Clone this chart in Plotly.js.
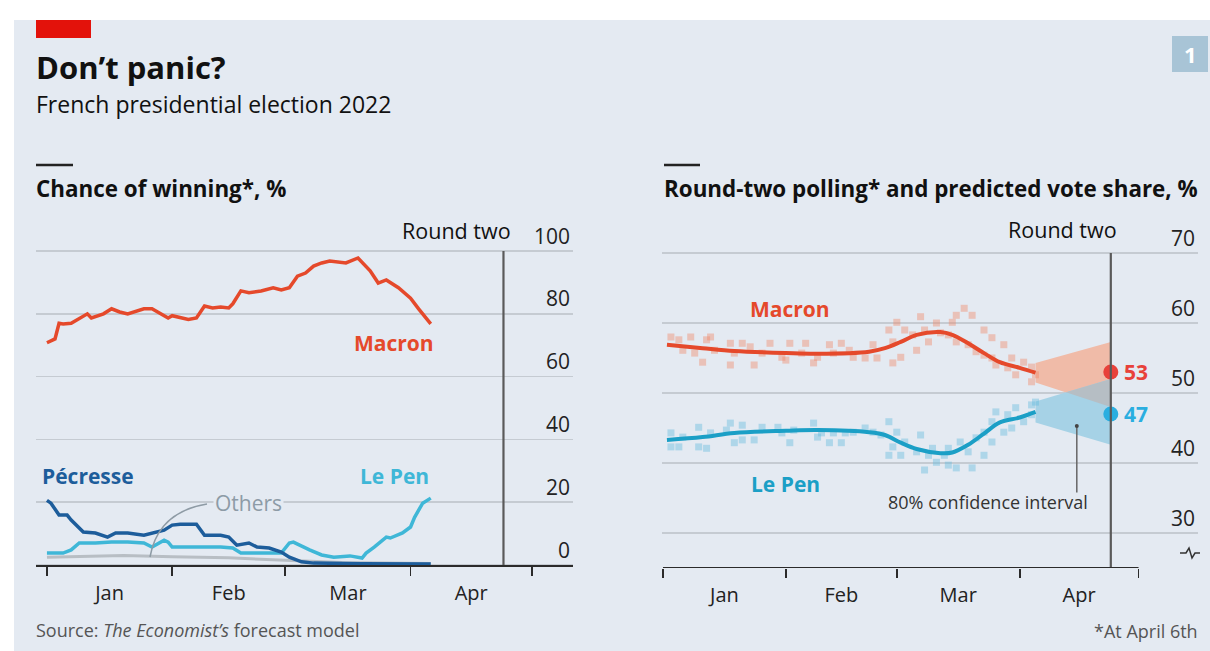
<!DOCTYPE html>
<html><head><meta charset="utf-8">
<script src="https://cdn.plot.ly/plotly-3.0.1.min.js"></script>
<style>html,body{margin:0;padding:0;background:#fff}#chart{width:1210px;height:651px}</style>
</head><body><div id="chart"></div>
<script>
// ---------- Left panel: chance of winning, % ----------
const macronChanceDates = ['2022-01-01','2022-01-03','2022-01-04','2022-01-05','2022-01-07','2022-01-09','2022-01-11','2022-01-12','2022-01-15','2022-01-17','2022-01-19','2022-01-21','2022-01-23','2022-01-25','2022-01-27','2022-01-31','2022-02-01','2022-02-03','2022-02-05','2022-02-07','2022-02-09','2022-02-11','2022-02-13','2022-02-15','2022-02-16','2022-02-18','2022-02-20','2022-02-23','2022-02-26','2022-02-28','2022-03-02','2022-03-04','2022-03-06','2022-03-08','2022-03-10','2022-03-12','2022-03-16','2022-03-19','2022-03-22','2022-03-24','2022-03-26','2022-03-29','2022-04-01','2022-04-03','2022-04-06'];
const macronChance = [70.8,72,77,76.8,77,78.6,80,78.7,80,81.6,80.6,80,80.8,81.6,81.6,78.7,79.4,78.7,78.2,78.7,82.5,81.9,82.2,81.9,83.2,87.3,86.7,87.3,88.3,87.6,88.3,92,93,95.2,96.2,96.8,96.2,97.8,93.7,89.8,90.8,88.3,85,81.6,76.8];

const pecresseDates = ['2022-01-01','2022-01-02','2022-01-04','2022-01-06','2022-01-07','2022-01-10','2022-01-13','2022-01-16','2022-01-18','2022-01-21','2022-01-25','2022-01-27','2022-01-30','2022-02-01','2022-02-03','2022-02-07','2022-02-09','2022-02-13','2022-02-15','2022-02-17','2022-02-20','2022-02-22','2022-02-25','2022-02-28','2022-03-02','2022-03-05','2022-03-08','2022-03-20','2022-04-06'];
const pecresseChance = [20.6,19.7,15.9,15.9,14.3,10.5,10.2,8.9,10.2,10.2,9.5,10.2,11.1,12.7,13,13,9.5,9.5,8.9,6.3,7,5.7,5.4,4.1,2.5,1,0.6,0.4,0.3];

const lePenChanceDates = ['2022-01-01','2022-01-05','2022-01-07','2022-01-09','2022-01-13','2022-01-17','2022-01-21','2022-01-25','2022-01-27','2022-01-30','2022-01-31','2022-02-01','2022-02-07','2022-02-13','2022-02-16','2022-02-18','2022-02-23','2022-02-28','2022-03-02','2022-03-03','2022-03-07','2022-03-10','2022-03-13','2022-03-17','2022-03-20','2022-03-21','2022-03-23','2022-03-25','2022-03-26','2022-03-27','2022-03-30','2022-04-01','2022-04-02','2022-04-04','2022-04-06'];
const lePenChance = [3.8,3.8,4.8,7,7,7.3,7.3,7,5.7,7.9,7.3,5.7,5.7,5.7,5.4,3.8,3.8,3.8,7,7.3,4.8,3.2,2.5,2.9,2.2,3.8,5.7,7.9,8.9,8.6,10.2,12.1,15.2,19.7,21.3];

const othersDates = ['2022-01-01','2022-01-10','2022-01-20','2022-02-01','2022-02-15','2022-03-01','2022-03-15','2022-04-06'];
const othersChance = [2.5,2.8,3,2.6,2.3,1.5,0.8,0.5];

const chanceTicks = [0,20,40,60,80,100];

// ---------- Right panel: round-two polling and predicted vote share, % ----------
const trendDates = ['2022-01-02','2022-01-11','2022-01-19','2022-02-01','2022-02-09','2022-02-22','2022-02-26','2022-03-02','2022-03-06','2022-03-12','2022-03-15','2022-03-19','2022-03-23','2022-03-27','2022-04-01','2022-04-05'];
const macronTrend = [56.9,56.4,56.0,55.7,55.6,55.9,56.4,57.3,58.3,58.7,58.3,57.1,55.7,54.4,53.6,52.9];
const lePenTrend  = [43.3,43.7,44.3,44.6,44.7,44.4,44.0,42.9,42.0,41.4,41.5,42.6,44.2,45.8,46.5,47.3];

const macronPollDates = ['2022-01-03','2022-01-05','2022-01-06','2022-01-08','2022-01-09','2022-01-11','2022-01-12','2022-01-13','2022-01-14','2022-01-18','2022-01-18','2022-01-19','2022-01-21','2022-01-23','2022-01-24','2022-01-26','2022-01-28','2022-01-31','2022-02-01','2022-02-02','2022-02-05','2022-02-06','2022-02-08','2022-02-09','2022-02-12','2022-02-13','2022-02-15','2022-02-17','2022-02-18','2022-02-21','2022-02-23','2022-02-24','2022-02-27','2022-02-28','2022-02-28','2022-03-01','2022-03-02','2022-03-03','2022-03-05','2022-03-06','2022-03-07','2022-03-08','2022-03-09','2022-03-11','2022-03-12','2022-03-14','2022-03-15','2022-03-16','2022-03-16','2022-03-18','2022-03-19','2022-03-20','2022-03-21','2022-03-23','2022-03-23','2022-03-25','2022-03-25','2022-03-26','2022-03-28','2022-03-29','2022-03-30','2022-03-31','2022-04-02','2022-04-04','2022-04-04','2022-04-05'];
const macronPolls = [58.0,57.6,56.1,58.0,55.7,54.4,57.6,58.0,56.1,57.1,54.0,55.7,57.1,56.6,54.0,55.7,57.1,55.1,54.7,57.1,55.7,57.1,54.3,55.1,56.9,55.7,57.1,56.1,55.1,55.0,56.9,55.0,59.0,54.3,57.3,60.1,55.1,59.0,58.3,56.1,60.9,59.0,57.3,60.0,58.6,58.3,60.1,61.1,57.3,62.1,56.9,61.1,55.9,59.0,55.4,57.9,55.0,54.0,56.9,53.6,55.0,52.6,54.4,51.6,53.7,52.6];

const lePenPollDates = ['2022-01-03','2022-01-03','2022-01-05','2022-01-06','2022-01-10','2022-01-10','2022-01-12','2022-01-13','2022-01-17','2022-01-18','2022-01-19','2022-01-21','2022-01-21','2022-01-24','2022-01-26','2022-01-30','2022-01-31','2022-02-02','2022-02-03','2022-02-08','2022-02-09','2022-02-10','2022-02-12','2022-02-13','2022-02-15','2022-02-16','2022-02-18','2022-02-21','2022-02-23','2022-02-25','2022-02-27','2022-02-27','2022-02-28','2022-03-01','2022-03-02','2022-03-03','2022-03-06','2022-03-07','2022-03-08','2022-03-09','2022-03-10','2022-03-11','2022-03-13','2022-03-14','2022-03-14','2022-03-16','2022-03-17','2022-03-19','2022-03-20','2022-03-21','2022-03-23','2022-03-23','2022-03-25','2022-03-25','2022-03-26','2022-03-28','2022-03-29','2022-03-30','2022-03-31','2022-04-02','2022-04-04','2022-04-04','2022-04-05'];
const lePenPolls = [44.3,42.3,42.3,43.7,45.1,42.3,42.1,44.3,44.7,45.7,42.9,43.3,45.4,43.3,45.1,45.1,44.3,42.9,44.7,45.7,43.7,44.3,42.9,44.3,42.9,44.3,44.4,45.0,44.4,44.0,45.9,41.1,42.3,44.4,41.1,43.0,41.6,44.0,39.0,41.1,42.1,40.1,41.1,42.1,39.7,39.3,43.0,41.6,39.3,43.6,44.4,41.1,45.9,43.0,47.3,44.4,46.9,45.0,47.9,45.9,48.3,46.9,48.7];

const ciDates = ['2022-04-05','2022-04-24'];
const macronLow = [51.5,48.0], macronHigh = [54.3,57.3];
const lePenLow  = [45.8,42.6], lePenHigh  = [48.8,52.0];

const roundTwoDate = '2022-04-24';
const predictedMacron = 53, predictedLePen = 47;
const shareTicks = [30,40,50,60,70];
const monthLabelsFmt = '%b';

// ---------- styling ----------
const FONT = '"Open Sans", "Noto Sans", sans-serif';
const BG = '#e4eaf2';
const GRID = '#c5cbd2';
const AX = '#2b2b2b';
const RED = '#e5492b', DARKBLUE = '#1d5d9b', LIGHTBLUE = '#3fb7d7', GREY = '#b8bec4';
const TEAL = '#1b9fc6';
const px = x => x / 1210, py = y => 1 - y / 651;

const traces = [
  {x: othersDates, y: othersChance, xaxis:'x', yaxis:'y', mode:'lines', line:{color:GREY, width:3}, hoverinfo:'skip'},
  {x: lePenChanceDates, y: lePenChance, xaxis:'x', yaxis:'y', mode:'lines', line:{color:LIGHTBLUE, width:3.5}, hoverinfo:'skip'},
  {x: pecresseDates, y: pecresseChance, xaxis:'x', yaxis:'y', mode:'lines', line:{color:DARKBLUE, width:3.5}, hoverinfo:'skip'},
  {x: macronChanceDates, y: macronChance, xaxis:'x', yaxis:'y', mode:'lines', line:{color:RED, width:3.5}, hoverinfo:'skip'},
];

function fan(low, high, color) {
  return {x:[ciDates[0], ciDates[1], ciDates[1], ciDates[0]], y:[low[0], low[1], high[1], high[0]],
    xaxis:'x2', yaxis:'y2', mode:'lines', fill:'toself', fillcolor:color, line:{width:0, color:color}, hoverinfo:'skip'};
}
traces.push(fan(macronLow, macronHigh, '#f0bba8'));
traces.push(fan(lePenLow, lePenHigh, '#a6d2e6'));
(function(){
  const t0 = new Date(ciDates[0]).getTime(), t1 = new Date(ciDates[1]).getTime();
  const dA = macronLow[1]-macronLow[0], dB = lePenHigh[1]-lePenHigh[0];
  const f = (macronLow[0]-lePenHigh[0]) / (dB - dA);
  const tc = new Date(t0 + f*(t1-t0)).toISOString();
  const vc = macronLow[0] + f*dA;
  traces.push({x:[tc, ciDates[1], ciDates[1], tc], y:[vc, macronLow[1], lePenHigh[1], vc], xaxis:'x2', yaxis:'y2',
    mode:'lines', fill:'toself', fillcolor:'#b6bec4', line:{width:0,color:'#b6bec4'}, hoverinfo:'skip'});
})();

traces.push({x: macronPollDates, y: macronPolls, xaxis:'x2', yaxis:'y2', mode:'markers',
  marker:{color:'rgba(240,135,105,0.42)', size:7, symbol:'square'}, hoverinfo:'skip'});
traces.push({x: lePenPollDates, y: lePenPolls, xaxis:'x2', yaxis:'y2', mode:'markers',
  marker:{color:'rgba(100,185,222,0.42)', size:7, symbol:'square'}, hoverinfo:'skip'});
traces.push({x: trendDates, y: macronTrend, xaxis:'x2', yaxis:'y2', mode:'lines', line:{color:RED, width:4, shape:'spline'}, hoverinfo:'skip'});
traces.push({x: trendDates, y: lePenTrend, xaxis:'x2', yaxis:'y2', mode:'lines', line:{color:TEAL, width:4, shape:'spline'}, hoverinfo:'skip'});
traces.push({x:[roundTwoDate], y:[predictedMacron], xaxis:'x2', yaxis:'y2', mode:'markers', marker:{color:'#e8413a', size:15}, cliponaxis:false, hoverinfo:'skip'});
traces.push({x:[roundTwoDate], y:[predictedLePen], xaxis:'x2', yaxis:'y2', mode:'markers', marker:{color:'#2aaee0', size:15}, cliponaxis:false, hoverinfo:'skip'});

const xCommon = {
  type:'date', dtick:'M1', tick0:'2022-01-01', ticklabelmode:'period', tickformat: monthLabelsFmt,
  ticks:'outside', ticklen:9, tickwidth:1.8, tickcolor:AX, showgrid:false, zeroline:false,
  tickfont:{family:FONT, size:20, color:'#222'}, fixedrange:true
};
const yCommon = {
  side:'right', ticklabelposition:'inside top', showgrid:true, gridcolor:GRID, gridwidth:1.5,
  zeroline:false, showline:false, ticks:'', tickfont:{family:FONT, size:21, color:'#222'}, fixedrange:true
};

// left: 0 -> y=565px, 100 -> y=251px (3.14 px/unit); right: 25 -> 568px, 70 -> 253px (7 px/unit)
const layout = {
  width:1210, height:651, margin:{l:0,r:0,t:0,b:0}, showlegend:false,
  paper_bgcolor:'#ffffff', plot_bgcolor:'rgba(0,0,0,0)',
  xaxis: Object.assign({}, xCommon, {domain:[px(36), px(573)], range:['2021-12-29 07:00','2022-05-11 05:00'],
    anchor:'free', position: py(565), showline:true, linecolor:AX, linewidth:1.8}),
  yaxis: Object.assign({}, yCommon, {domain:[py(571.28), py(204.9)], range:[-2,114.7], tickvals:chanceTicks, anchor:'x'}),
  xaxis2: Object.assign({}, xCommon, {domain:[px(662), px(1198)], range:['2021-12-31 18:00','2022-05-16 00:00'],
    anchor:'y2', showline:false}),
  yaxis2: Object.assign({}, yCommon, {domain:[py(568), py(204)], range:[25,77], tickvals:shareTicks, anchor:'x2'}),
  shapes: [
    {type:'rect', xref:'paper', yref:'paper', x0:px(14), x1:1, y0:0, y1:py(20), fillcolor:BG, line:{width:0}, layer:'below'},
    {type:'rect', xref:'paper', yref:'paper', x0:px(36), x1:px(91), y0:py(38), y1:py(20), fillcolor:'#e3120b', line:{width:0}},
    {type:'rect', xref:'paper', yref:'paper', x0:px(1172), x1:px(1208), y0:py(72), y1:py(36), fillcolor:'#a8c4d6', line:{width:0}},
    {type:'line', xref:'paper', yref:'paper', x0:px(36), x1:px(73), y0:py(165), y1:py(165), line:{color:'#222', width:2.5}},
    {type:'line', xref:'paper', yref:'paper', x0:px(664), x1:px(700), y0:py(165), y1:py(165), line:{color:'#222', width:2.5}},
    {type:'line', xref:'x', yref:'y', x0:roundTwoDate, x1:roundTwoDate, y0:0, y1:100, line:{color:'#5a5a5a', width:2.2}},
    {type:'line', xref:'x2', yref:'y2', x0:roundTwoDate, x1:roundTwoDate, y0:25, y1:70, line:{color:'#5a5a5a', width:2.2}},
    {type:'line', xref:'x2', yref:'y2', x0:'2022-01-01', x1:'2022-05-01', y0:25, y1:25, line:{color:AX, width:1.8}},
    {type:'line', xref:'x2', yref:'y2', x0:'2022-04-15 10:00', x1:'2022-04-15 10:00', y0:35.8, y1:45.3, line:{color:'#666', width:1.5}},
    {type:'circle', xref:'x2', yref:'y2', xsizemode:'pixel', ysizemode:'pixel', xanchor:'2022-04-15 10:00', yanchor:45.3,
      x0:-2, x1:2, y0:-2, y1:2, fillcolor:'#444', line:{width:0}},
    {type:'path', xref:'paper', yref:'paper',
      path:`M ${px(207)},${py(504)} Q ${px(158)},${py(512)} ${px(150)},${py(557)}`, line:{color:'#8e9ba5', width:1.5}},
    {type:'path', xref:'paper', yref:'paper',
      path:`M ${px(1180)},${py(553)} L ${px(1186)},${py(553)} L ${px(1189)},${py(548)} L ${px(1192)},${py(558)} L ${px(1195)},${py(553)} L ${px(1200)},${py(553)}`,
      line:{color:'#333', width:1.5}}
  ],
  annotations: [
    {xref:'paper', yref:'paper', x:px(34), y:py(67), xanchor:'left', yanchor:'middle', showarrow:false,
      text:'<b>Don’t panic?</b>', font:{family:FONT, size:31, color:'#111'}},
    {xref:'paper', yref:'paper', x:px(34), y:py(104), xanchor:'left', yanchor:'middle', showarrow:false,
      text:'French presidential election 2022', font:{family:FONT, size:23, color:'#111'}},
    {xref:'paper', yref:'paper', x:px(34), y:py(189), xanchor:'left', yanchor:'middle', showarrow:false,
      text:'<b>Chance of winning*, %</b>', font:{family:FONT, size:22.4, color:'#111'}},
    {xref:'paper', yref:'paper', x:px(662), y:py(189), xanchor:'left', yanchor:'middle', showarrow:false,
      text:'<b>Round-two polling* and predicted vote share, %</b>', font:{family:FONT, size:22.4, color:'#111'}},
    {xref:'paper', yref:'paper', x:px(1190), y:py(54), xanchor:'center', yanchor:'middle', showarrow:false,
      text:'<b>1</b>', font:{family:FONT, size:22, color:'#ffffff'}},
    {xref:'paper', yref:'paper', x:px(34), y:py(630), xanchor:'left', yanchor:'middle', showarrow:false,
      text:'Source: <i>The Economist’s</i> forecast model', font:{family:FONT, size:18, color:'#555'}},
    {xref:'paper', yref:'paper', x:px(1200), y:py(631), xanchor:'right', yanchor:'middle', showarrow:false,
      text:'*At April 6th', font:{family:FONT, size:18, color:'#555'}},
    {xref:'x', yref:'y', x:roundTwoDate, y:100, xanchor:'right', yanchor:'middle', xshift:10, yshift:21, showarrow:false,
      text:'Round two', font:{family:FONT, size:21.5, color:'#111'}},
    {xref:'x', yref:'y', x:'2022-03-28', y:70.7, xanchor:'center', yanchor:'middle', showarrow:false,
      text:'<b>Macron</b>', font:{family:FONT, size:21, color:RED}},
    {xref:'x', yref:'y', x:'2022-03-28', y:28.3, xanchor:'center', yanchor:'middle', showarrow:false,
      text:'<b>Le Pen</b>', font:{family:FONT, size:21, color:LIGHTBLUE}},
    {xref:'x', yref:'y', x:'2021-12-30 06:00', y:28.3, xanchor:'left', yanchor:'middle', showarrow:false,
      text:'<b>Pécresse</b>', font:{family:FONT, size:21, color:DARKBLUE}},
    {xref:'x', yref:'y', x:'2022-02-20', y:19.7, xanchor:'center', yanchor:'middle', showarrow:false,
      text:'Others', bgcolor:BG, borderpad:1, font:{family:FONT, size:21, color:'#8d9ba6'}},
    {xref:'x2', yref:'y2', x:roundTwoDate, y:70, xanchor:'right', yanchor:'middle', xshift:8, yshift:23, showarrow:false,
      text:'Round two', font:{family:FONT, size:21.5, color:'#111'}},
    {xref:'x2', yref:'y2', x:'2022-02-02', y:62, xanchor:'center', yanchor:'middle', showarrow:false,
      text:'<b>Macron</b>', font:{family:FONT, size:21, color:RED}},
    {xref:'x2', yref:'y2', x:'2022-02-01', y:37, xanchor:'center', yanchor:'middle', showarrow:false,
      text:'<b>Le Pen</b>', font:{family:FONT, size:21, color:TEAL}},
    {xref:'x2', yref:'y2', x:roundTwoDate, y:predictedMacron, xanchor:'left', yanchor:'middle', xshift:11, showarrow:false,
      text:'<b>'+predictedMacron+'</b>', font:{family:FONT, size:21, color:'#e8413a'}},
    {xref:'x2', yref:'y2', x:roundTwoDate, y:predictedLePen, xanchor:'left', yanchor:'middle', xshift:11, showarrow:false,
      text:'<b>'+predictedLePen+'</b>', font:{family:FONT, size:21, color:'#2aaee0'}},
    {xref:'x2', yref:'y2', x:'2022-03-24', y:34.4, xanchor:'center', yanchor:'middle', showarrow:false,
      text:'80% confidence interval', font:{family:FONT, size:18, color:'#333'}}
  ]
};

Plotly.newPlot('chart', traces, layout, {staticPlot:true, displayModeBar:false});
</script>
</body></html>
